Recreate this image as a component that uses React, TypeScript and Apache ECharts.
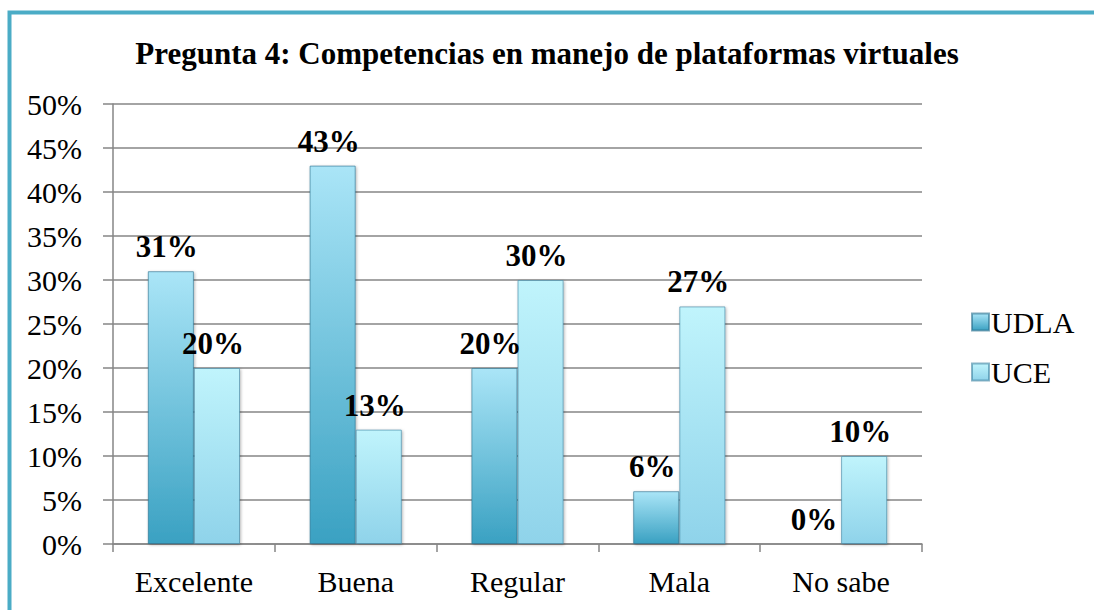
import React, { useEffect, useRef } from "react";
import * as echarts from "echarts";

const categories = ["Excelente", "Buena", "Regular", "Mala", "No sabe"];
const udla = [31, 43, 20, 6, 0];
const uce = [20, 13, 30, 27, 10];
const seriesNames = ["UDLA", "UCE"];
const titleText = "Pregunta 4: Competencias en manejo de plataformas virtuales";

const FONT = "Liberation Serif, Times New Roman, serif";

export default function App() {
  const ref = useRef<HTMLDivElement>(null);
  useEffect(() => {
    document.body.style.margin = "0";
    const chart = echarts.init(ref.current!, null, { renderer: "svg" });
    const grad = (top: string, bottom: string) =>
      new echarts.graphic.LinearGradient(0, 0, 0, 1, [
        { offset: 0, color: top },
        { offset: 1, color: bottom },
      ]);
    const labelStyle = {
      show: true,
      position: "top" as const,
      distance: 9,
      offset: [-4, 0],
      formatter: "{c}%",
      fontFamily: FONT,
      fontWeight: "bold" as const,
      fontSize: 31,
      color: "#000",
    };
    chart.setOption({
      animation: false,
      backgroundColor: "#fff",
      title: {
        text: titleText,
        left: "center",
        top: 33,
        textStyle: { fontFamily: FONT, fontWeight: "bold", fontSize: 31, color: "#000" },
      },
      graphic: [
        {
          type: "rect",
          shape: { x: 9.5, y: 12.5, width: 1200, height: 700 },
          style: { fill: "none", stroke: "#4bacc6", lineWidth: 4 },
          silent: true,
        },
      ],
      legend: {
        orient: "vertical",
        left: 966,
        top: 302,
        itemWidth: 17,
        itemHeight: 17,
        itemGap: 20,
        icon: "rect",
        textStyle: { fontFamily: FONT, fontSize: 30, color: "#000", padding: [0, 0, 0, -3] },
        data: seriesNames,
      },
      grid: { left: 113, right: 172, top: 104, bottom: 66, containLabel: false },
      xAxis: {
        type: "category",
        data: categories,
        axisLine: { show: true, lineStyle: { color: "#868686", width: 1.5 } },
        axisTick: { show: true, length: 8, lineStyle: { color: "#868686", width: 1.5 } },
        axisLabel: { fontFamily: FONT, fontSize: 30, color: "#000", margin: 22 },
      },
      yAxis: {
        type: "value",
        min: 0,
        max: 50,
        interval: 5,
        axisLine: { show: true, lineStyle: { color: "#868686", width: 1.5 } },
        axisTick: { show: true, length: 10, lineStyle: { color: "#868686", width: 1.5 } },
        splitLine: { show: true, lineStyle: { color: "#868686", width: 1.5 } },
        axisLabel: { fontFamily: FONT, fontSize: 30, color: "#000", margin: 31, formatter: "{value}%" },
      },
      series: [
        {
          name: seriesNames[0],
          type: "bar",
          data: udla,
          barGap: "0%",
          barCategoryGap: "43%",
          itemStyle: {
            color: grad("#aae5f7", "#3aa1c2"),
            borderColor: "rgba(40,110,140,0.6)",
            borderWidth: 1,
            shadowColor: "rgba(0,0,0,0.3)",
            shadowBlur: 3,
            shadowOffsetX: 1,
            shadowOffsetY: 1,
          },
          label: labelStyle,
        },
        {
          name: seriesNames[1],
          type: "bar",
          data: uce,
          itemStyle: {
            color: grad("#c0f4fc", "#8fd3ea"),
            borderColor: "rgba(60,130,160,0.6)",
            borderWidth: 1,
            shadowColor: "rgba(0,0,0,0.3)",
            shadowBlur: 3,
            shadowOffsetX: 1,
            shadowOffsetY: 1,
          },
          label: labelStyle,
        },
      ],
    });
    return () => chart.dispose();
  }, []);
  return <div ref={ref} style={{ width: 1094, height: 610 }} />;
}
